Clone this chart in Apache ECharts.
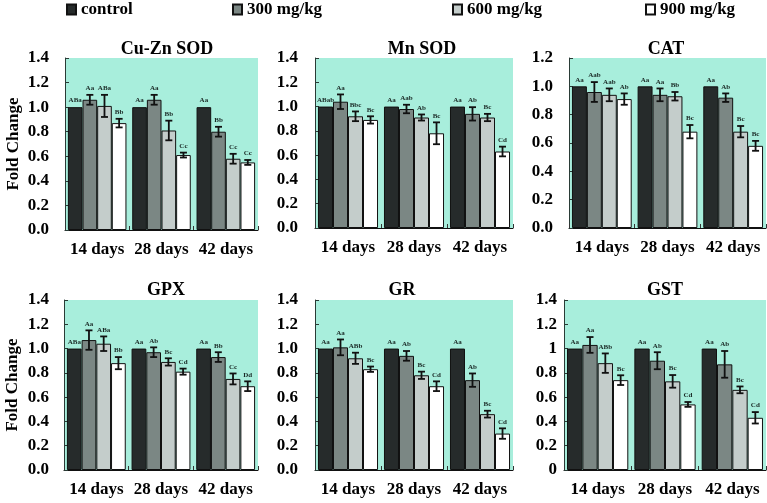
<!DOCTYPE html>
<html>
<head>
<meta charset="utf-8">
<script src="https://cdn.jsdelivr.net/npm/echarts@6/dist/echarts.min.js"></script>
<style>html,body{margin:0;padding:0;background:#fff}#c{width:767px;height:503px}</style>
</head>
<body>
<div id="c"></div>
<script>
// ---------- data ----------
const categories = ['14 days', '28 days', '42 days'];
const groups = ['control', '300 mg/kg', '600 mg/kg', '900 mg/kg'];
const panelTitles = ['Cu-Zn SOD', 'Mn SOD', 'CAT', 'GPX', 'GR', 'GST'];
const yMax = [1.4, 1.4, 1.2, 1.4, 1.4, 1.4];

// rows = groups (control, 300, 600, 900); columns = categories (14, 28, 42 days)
const cuZnSodMean = [[1.00, 1.00, 1.00], [1.06, 1.06, 0.80], [1.01, 0.81, 0.58], [0.87, 0.61, 0.55]];
const cuZnSodErr  = [[0, 0, 0], [0.04, 0.04, 0.04], [0.09, 0.08, 0.04], [0.035, 0.02, 0.02]];
const cuZnSodSig  = [['ABa', 'Aa', 'Aa'], ['Aa', 'Aa', 'Bb'], ['ABa', 'Bb', 'Cc'], ['Bb', 'Cc', 'Cc']];

const mnSodMean = [[1.00, 1.00, 1.00], [1.04, 0.98, 0.94], [0.92, 0.91, 0.91], [0.89, 0.78, 0.63]];
const mnSodErr  = [[0, 0, 0], [0.06, 0.035, 0.055], [0.04, 0.025, 0.03], [0.03, 0.09, 0.04]];
const mnSodSig  = [['ABab', 'Aa', 'Aa'], ['Aa', 'Aab', 'Ab'], ['Bbc', 'Ab', 'Bc'], ['Bc', 'Bc', 'Cd']];

const catMean = [[1.00, 1.00, 1.00], [0.96, 0.94, 0.92], [0.94, 0.93, 0.68], [0.91, 0.68, 0.58]];
const catErr  = [[0, 0, 0], [0.07, 0.045, 0.03], [0.045, 0.03, 0.04], [0.04, 0.047, 0.035]];
const catSig  = [['Aa', 'Aa', 'Aa'], ['Aab', 'Aa', 'Ab'], ['Aab', 'Bb', 'Bc'], ['Ab', 'Bc', 'Bc']];

const gpxMean = [[1.00, 1.00, 1.00], [1.07, 0.97, 0.93], [1.04, 0.89, 0.75], [0.88, 0.81, 0.69]];
const gpxErr  = [[0, 0, 0], [0.08, 0.04, 0.04], [0.06, 0.03, 0.045], [0.05, 0.025, 0.04]];
const gpxSig  = [['ABa', 'Aa', 'Aa'], ['Aa', 'Ab', 'Bb'], ['ABa', 'Bc', 'Cc'], ['Bb', 'Cd', 'Dd']];

const grMean = [[1.00, 1.00, 1.00], [1.01, 0.94, 0.74], [0.92, 0.78, 0.46], [0.83, 0.69, 0.30]];
const grErr  = [[0, 0, 0], [0.065, 0.04, 0.055], [0.046, 0.03, 0.028], [0.022, 0.04, 0.043]];
const grSig  = [['Aa', 'Aa', 'Aa'], ['Aa', 'Ab', 'Ab'], ['ABb', 'Bc', 'Bc'], ['Bc', 'Cd', 'Cd']];

const gstMean = [[1.00, 1.00, 1.00], [1.03, 0.90, 0.87], [0.88, 0.73, 0.66], [0.74, 0.54, 0.43]];
const gstErr  = [[0, 0, 0], [0.065, 0.07, 0.11], [0.08, 0.052, 0.028], [0.04, 0.02, 0.047]];
const gstSig  = [['Aa', 'Aa', 'Aa'], ['Aa', 'Ab', 'Ab'], ['ABb', 'Bc', 'Bc'], ['Bc', 'Cd', 'Cd']];

// ---------- layout / style ----------
const panelMeans = [cuZnSodMean, mnSodMean, catMean, gpxMean, grMean, gstMean];
const panelErrs = [cuZnSodErr, mnSodErr, catErr, gpxErr, grErr, gstErr];
const panelSigs = [cuZnSodSig, mnSodSig, catSig, gpxSig, grSig, gstSig];

const gridBoxes = [
  {left: 65, top: 58, width: 193, height: 172},
  {left: 315, top: 58, width: 198, height: 170},
  {left: 569, top: 58, width: 197, height: 170},
  {left: 64, top: 300, width: 194, height: 170},
  {left: 315, top: 300, width: 198, height: 170},
  {left: 564, top: 300, width: 202, height: 170}
];
const labelMargins = [16, 17, 16, 15, 17, 7];
const titlePos = [[167, 40], [422, 40], [666, 40], [166, 281], [402, 281], [665, 281]];
const barColors = ['#262b2b', '#7b8784', '#c4cdcb', '#ffffff'];
const legendLeft = [66, 232, 452, 645];
const SERIF = '"Liberation Serif", "Times New Roman", serif';
const GAP = 0.09;

const grid = [], xAxis = [], yAxis = [], series = [], title = [];

gridBoxes.forEach((b, p) => {
  grid.push(Object.assign({show: true, backgroundColor: '#a8eedc', borderWidth: 0, containLabel: false}, b));
  xAxis.push({
    type: 'category', gridIndex: p, data: categories,
    axisLine: {lineStyle: {color: '#111', width: 1}},
    axisTick: {show: true, inside: true, length: 4, lineStyle: {color: '#333'}},
    axisLabel: {color: '#000', fontFamily: SERIF, fontWeight: 'bold', fontSize: 17, margin: 11,
      interval: 0, hideOverlap: false}
  });
  const yax = {
    type: 'value', gridIndex: p, min: 0, max: yMax[p], interval: 0.2,
    axisLine: {show: true, lineStyle: {color: '#2a3b36', width: 1}},
    axisTick: {show: true, inside: true, length: 4, lineStyle: {color: '#2a3b36'}},
    splitLine: {show: false},
    axisLabel: {color: '#000', fontFamily: SERIF, fontWeight: 'bold', fontSize: 17, margin: labelMargins[p],
      formatter: p === 5 ? (v => String(Math.round(v * 10) / 10)) : (v => v.toFixed(1))}
  };
  if (p === 0 || p === 3) {
    Object.assign(yax, {
      name: 'Fold Change', nameLocation: 'middle', nameGap: 43, nameRotate: 90,
      nameTextStyle: {color: '#000', fontFamily: SERIF, fontWeight: 'bold', fontSize: 17}
    });
  }
  yAxis.push(yax);
  title.push({
    text: panelTitles[p], left: titlePos[p][0], top: titlePos[p][1], textAlign: 'center', padding: 0,
    textStyle: {color: '#000', fontFamily: SERIF, fontWeight: 'bold', fontSize: 18}
  });

  const means = panelMeans[p], errs = panelErrs[p], sigs = panelSigs[p];
  groups.forEach((g, t) => {
    series.push({
      name: g, type: 'bar', xAxisIndex: p, yAxisIndex: p,
      data: means[t], barGap: 0, barCategoryGap: (GAP * 100) + '%',
      itemStyle: {color: barColors[t], borderColor: '#111', borderWidth: 1},
      emphasis: {disabled: true}, animation: false
    });
  });

  const ebData = [];
  groups.forEach((g, t) => categories.forEach((c, ci) => {
    ebData.push([ci, t, means[t][ci], errs[t][ci]]);
  }));
  series.push({
    type: 'custom', xAxisIndex: p, yAxisIndex: p, z: 10, clip: false, animation: false,
    encode: {x: 0, y: 2},
    data: ebData,
    renderItem: function (params, api) {
      const ci = api.value(0), t = api.value(1), m = api.value(2), e = api.value(3);
      const catW = api.size([1, 0])[0];
      const groupW = catW * (1 - GAP);
      const bw = groupW / 4;
      const cx = api.coord([ci, m])[0] - groupW / 2 + (t + 0.5) * bw;
      const yTop = api.coord([ci, m + e])[1];
      const yBot = api.coord([ci, m - e])[1];
      const children = [];
      const ls = {stroke: '#111', lineWidth: 1.8};
      if (e > 0) {
        children.push({type: 'line', shape: {x1: cx, y1: yTop, x2: cx, y2: yBot}, style: ls});
        children.push({type: 'line', shape: {x1: cx - 3.5, y1: yTop, x2: cx + 3.5, y2: yTop}, style: ls});
        children.push({type: 'line', shape: {x1: cx - 3.5, y1: yBot, x2: cx + 3.5, y2: yBot}, style: ls});
      }
      children.push({
        type: 'text', x: cx, y: yTop - 3,
        style: {text: sigs[t][ci], fill: '#1a2a26', font: 'bold 7px ' + SERIF, textAlign: 'center', textVerticalAlign: 'bottom'}
      });
      return {type: 'group', children: children};
    }
  });
});

const legend = groups.map((g, i) => ({
  data: [g], left: legendLeft[i], top: 1, padding: 0, icon: 'rect', itemWidth: 9, itemHeight: 10,
  selectedMode: false,
  textStyle: {color: '#000', fontFamily: SERIF, fontWeight: 'bold', fontSize: 17}
}));

const chart = echarts.init(document.getElementById('c'), null, {renderer: 'canvas'});
chart.setOption({animation: false, title, legend, grid, xAxis, yAxis, series});
</script>
</body>
</html>
